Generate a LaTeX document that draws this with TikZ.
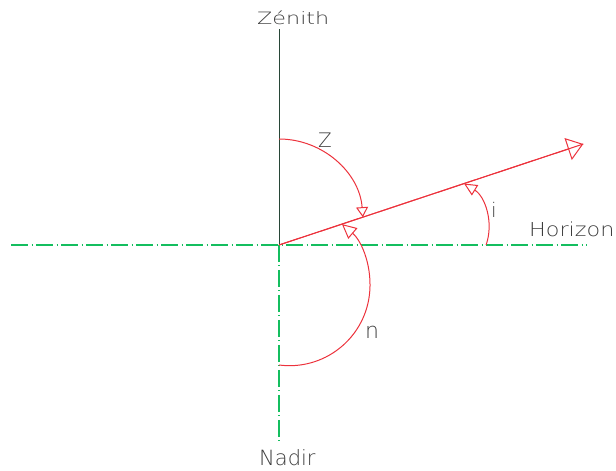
\documentclass[tikz,border=0pt]{standalone}
\usepackage{fontspec}
\newfontfamily\lblfont{DejaVuSans-ExtraLight.ttf}
\usetikzlibrary{arrows.meta,calc}
\definecolor{cadred}{RGB}{236,50,60}
\definecolor{cadgreen}{RGB}{20,190,95}
\definecolor{caddark}{RGB}{40,70,55}
\definecolor{cadtext}{RGB}{60,60,60}
\begin{document}
\begin{tikzpicture}[x=1pt,y=1pt,
  redline/.style={draw=cadred, line width=1pt},
  darkline/.style={draw=caddark, line width=1pt},
  axisline/.style={draw=cadgreen, line width=1.2pt, dash pattern=on 17pt off 3.5pt on 1pt off 3.5pt},
  lbl/.style={text=cadtext, inner sep=0pt, anchor=base west},
  opentip/.style n args={2}{-{Triangle[open,length=#1,width=#2]}}]
\useasboundingbox (0,0) rectangle (616,471);
% key points
\coordinate (O) at (279,226);
\coordinate (Ztop) at (279,442);
\coordinate (Nbot) at (279,30);
\coordinate (Hl) at (11,226);
\coordinate (Hr) at (587,226);
\coordinate (T) at (583.3,327);
\coordinate (Zs) at (279,332);
\coordinate (Ns) at (279,106);
\coordinate (Is) at (486.1,226);
% axes
\draw[darkline] (O) -- (Ztop);
\draw[axisline] (O) -- (Nbot);
\draw[axisline] (Hl) -- (Hr);
% direction line
\draw[redline] (O) -- (T);
\draw[redline, opentip={16pt}{23pt}] (O) -- (T);
% angle arcs
\draw[redline, opentip={10pt}{12pt}] (Zs) arc[start angle=90, end angle=4, radius=84];
\draw[redline, opentip={14.5pt}{14pt}] (Ns) arc[start angle=-97.5, end angle=49.4, radius=80.5];
\draw[redline, opentip={13pt}{12pt}] (Is) arc[start angle=-19.1, end angle=58.7, radius=52];
% labels
\node[lbl, font=\lblfont\fontsize{17}{20}\selectfont] (zen) at (257,446) {\scalebox{1.31}[1]{Zénith}};
\node[lbl, font=\lblfont\fontsize{19.2}{22}\selectfont] (hor) at (529,234.3) {\scalebox{1.16}[1]{Horizon}};
\node[lbl, font=\lblfont\fontsize{21}{24}\selectfont] (nad) at (259,5) {Nadir};
\node[lbl, font=\lblfont\fontsize{20}{24}\selectfont] (zl) at (318,323) {Z};
\node[lbl, font=\lblfont\fontsize{20}{24}\selectfont] (il) at (491,253.7) {i};
\node[lbl, font=\lblfont\fontsize{22}{24}\selectfont] (nl) at (365,132) {n};
\end{tikzpicture}
\end{document}
